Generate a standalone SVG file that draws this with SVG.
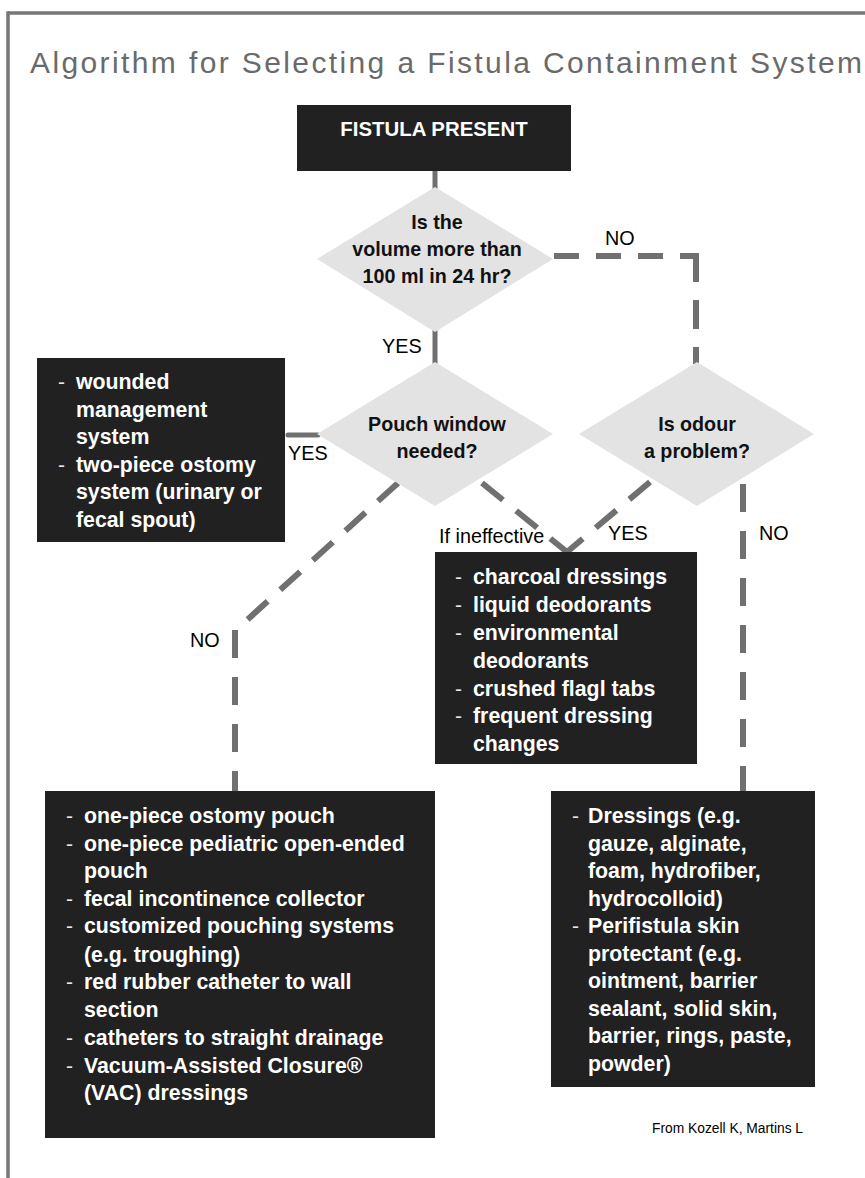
<svg xmlns="http://www.w3.org/2000/svg" width="865" height="1178" viewBox="0 0 865 1178">
<style>
.box{fill:#212121}
.dia{fill:#e3e3e3}
.bt{font-family:"Liberation Sans",Arial,sans-serif;font-weight:bold;font-size:21.3px;fill:#ffffff}
.bd{font-family:"Liberation Sans",Arial,sans-serif;font-size:21px;fill:#e8e8e8}
.dt{font-family:"Liberation Sans",Arial,sans-serif;font-weight:bold;font-size:19.7px;fill:#111111;text-anchor:middle}
.lbl{font-family:"Liberation Sans",Arial,sans-serif;font-size:19.8px;fill:#000000}
.sol{stroke:#707070;stroke-width:5;fill:none;stroke-linecap:round}
.dsh{stroke:#707070;stroke-width:6;fill:none;stroke-dasharray:27 17}
.frame{stroke:#777777;stroke-width:3.5;fill:none}
</style>
<rect width="865" height="1178" fill="#ffffff"/>
<g id="frame">
<line class="frame" x1="8" y1="13" x2="865" y2="13"/>
<line class="frame" x1="8" y1="11.3" x2="8" y2="1178"/>
</g>
<text id="title" x="30" y="73" font-family="'Liberation Sans',Arial,sans-serif" font-size="30" fill="#6a6a6a" textLength="832" lengthAdjust="spacing">Algorithm for Selecting a Fistula Containment System</text>
<g id="connectors">
<line class="sol" x1="435" y1="171" x2="435" y2="190"/>
<line class="sol" x1="435" y1="330" x2="435" y2="364"/>
<line class="sol" x1="288" y1="435" x2="318" y2="435"/>
<path class="dsh" d="M554 256 H699" style="stroke-dasharray:25 17"/>
<path class="dsh" d="M696 253 V364" style="stroke-dasharray:29 18"/>
<path class="dsh" d="M398 483 L236 630"/>
<path class="dsh" d="M235 630 V791" style="stroke-dasharray:28 19"/>
<path class="dsh" d="M482 483 L567 552"/>
<path class="dsh" d="M650 482 L567 552"/>
<path class="dsh" d="M743 484 V791" style="stroke-dasharray:28 19"/>
</g>
<g id="fistula-present">
<rect class="box" x="297" y="105" width="274" height="66"/>
<text x="434" y="136" font-family="'Liberation Sans',Arial,sans-serif" font-weight="bold" font-size="20.4" fill="#ffffff" text-anchor="middle">FISTULA PRESENT</text>
</g>
<g id="volume-decision">
<polygon class="dia" points="435,187 553,259 435,332 317,259"/>
<text class="dt"><tspan x="437" y="229">Is the</tspan><tspan x="437" y="256">volume more than</tspan><tspan x="437" y="283">100 ml in 24 hr?</tspan></text>
</g>
<g id="window-decision">
<polygon class="dia" points="435,362 553,434 435,506 317,434"/>
<text class="dt"><tspan x="437" y="431">Pouch window</tspan><tspan x="437" y="458">needed?</tspan></text>
</g>
<g id="odour-decision">
<polygon class="dia" points="697,362 814,434 697,506 579,434"/>
<text class="dt"><tspan x="697" y="431">Is odour</tspan><tspan x="697" y="458">a problem?</tspan></text>
</g>
<g id="labels">
<text class="lbl" x="605" y="245">NO</text>
<text class="lbl" x="382" y="353">YES</text>
<text class="lbl" x="288" y="460">YES</text>
<text class="lbl" x="190" y="647">NO</text>
<text class="lbl" x="439" y="543" font-size="17.8">If ineffective</text>
<text class="lbl" x="608" y="540">YES</text>
<text class="lbl" x="759" y="540">NO</text>
</g>
<g id="window-yes-box">
<rect class="box" x="37" y="358" width="248" height="184"/>
<text class="bd"><tspan x="58" y="389">-</tspan><tspan x="58" y="472">-</tspan></text>
<text class="bt"><tspan x="76" y="389">wounded</tspan><tspan x="76" y="417">management</tspan><tspan x="76" y="444">system</tspan><tspan x="76" y="472">two-piece ostomy</tspan><tspan x="76" y="499">system (urinary or</tspan><tspan x="76" y="527">fecal spout)</tspan></text>
</g>
<g id="odour-box">
<rect class="box" x="435" y="552" width="262" height="212"/>
<text class="bd"><tspan x="455" y="584">-</tspan><tspan x="455" y="612">-</tspan><tspan x="455" y="640">-</tspan><tspan x="455" y="696">-</tspan><tspan x="455" y="723">-</tspan></text>
<text class="bt"><tspan x="473" y="584">charcoal dressings</tspan><tspan x="473" y="612">liquid deodorants</tspan><tspan x="473" y="640">environmental</tspan><tspan x="473" y="668">deodorants</tspan><tspan x="473" y="696">crushed flagl tabs</tspan><tspan x="473" y="723">frequent dressing</tspan><tspan x="473" y="751">changes</tspan></text>
</g>
<g id="window-no-box">
<rect class="box" x="45" y="791" width="390" height="347"/>
<text class="bd"><tspan x="66" y="823">-</tspan><tspan x="66" y="851">-</tspan><tspan x="66" y="906">-</tspan><tspan x="66" y="933">-</tspan><tspan x="66" y="989">-</tspan><tspan x="66" y="1045">-</tspan><tspan x="66" y="1073">-</tspan></text>
<text class="bt"><tspan x="84" y="823">one-piece ostomy pouch</tspan><tspan x="84" y="851">one-piece pediatric open-ended</tspan><tspan x="84" y="878">pouch</tspan><tspan x="84" y="906">fecal incontinence collector</tspan><tspan x="84" y="933">customized pouching systems</tspan><tspan x="84" y="962">(e.g. troughing)</tspan><tspan x="84" y="989">red rubber catheter to wall</tspan><tspan x="84" y="1017">section</tspan><tspan x="84" y="1045">catheters to straight drainage</tspan><tspan x="84" y="1073">Vacuum-Assisted Closure®</tspan><tspan x="84" y="1100">(VAC) dressings</tspan></text>
</g>
<g id="odour-no-box">
<rect class="box" x="551" y="791" width="264" height="296"/>
<text class="bd"><tspan x="572" y="823">-</tspan><tspan x="572" y="933">-</tspan></text>
<text class="bt"><tspan x="588" y="823">Dressings (e.g.</tspan><tspan x="588" y="851">gauze, alginate,</tspan><tspan x="588" y="878">foam, hydrofiber,</tspan><tspan x="588" y="906">hydrocolloid)</tspan><tspan x="588" y="933">Perifistula skin</tspan><tspan x="588" y="961">protectant (e.g.</tspan><tspan x="588" y="988">ointment, barrier</tspan><tspan x="588" y="1016">sealant, solid skin,</tspan><tspan x="588" y="1043">barrier, rings, paste,</tspan><tspan x="588" y="1071">powder)</tspan></text>
</g>
<text id="credit" x="652" y="1133" font-family="'Liberation Sans',Arial,sans-serif" font-size="13.8" fill="#000000">From Kozell K, Martins L</text>
</svg>
